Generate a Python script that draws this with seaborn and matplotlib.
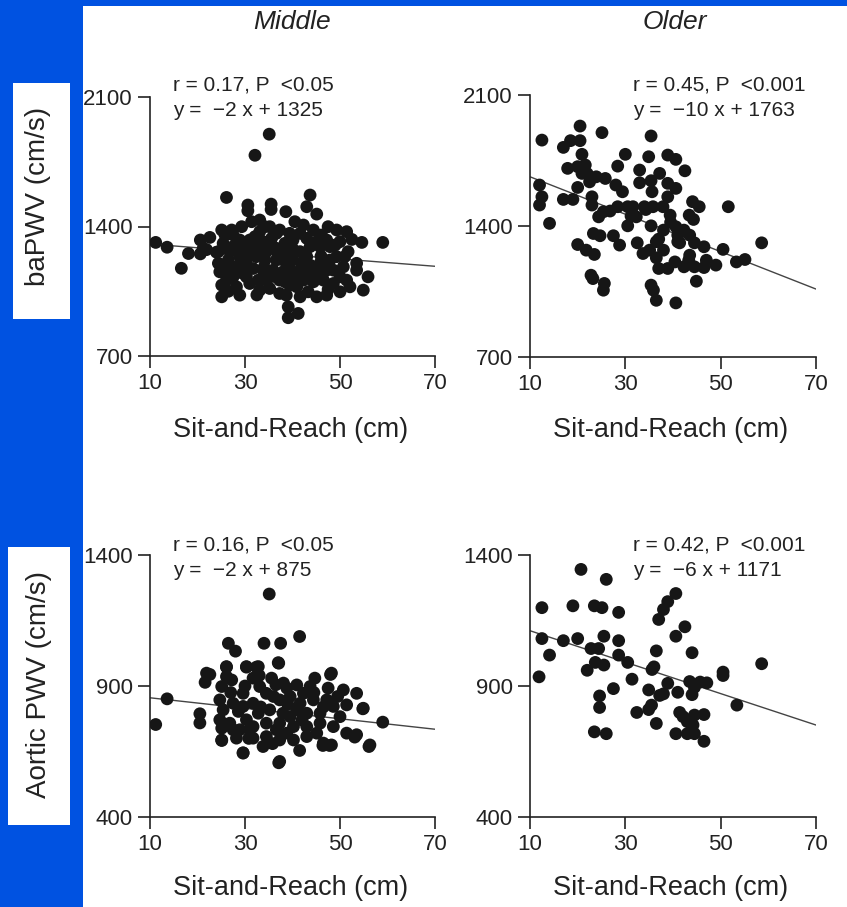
import matplotlib
matplotlib.use("Agg")
import matplotlib.pyplot as plt
import seaborn as sns
import pandas as pd
from matplotlib.patches import Rectangle

sns.set_style("ticks")
plt.rcParams['font.family'] = ['Liberation Sans', 'DejaVu Sans']

# ---------------- data ----------------
columns = ["Middle", "Older"]
row_labels = ["baPWV (cm/s)", "Aortic PWV (cm/s)"]
x_ticks = [10, 30, 50, 70]
y_ticks_ba = [700, 1400, 2100]
y_ticks_ao = [400, 900, 1400]

mid_ba = [
    (11.2, 1314), (13.6, 1288), (16.6, 1174), (18.1, 1254), (20.6, 1327), (20.6, 1252),
    (22.6, 1341), (21.9, 1275), (24.0, 1261), (32.1, 1785), (35.1, 1899), (26.1, 1557),
    (30.6, 1516), (30.6, 1485), (35.5, 1521), (35.5, 1492), (38.6, 1480), (43.7, 1570),
    (43.0, 1507), (45.1, 1467), (54.6, 1314), (59.0, 1314), (21.2, 1282),
    (25.1, 1381), (25.8, 1354), (27.5, 1354), (29.3, 1399), (31.4, 1426), (33.1, 1435),
    (34.2, 1399), (37.3, 1381), (35.6, 1336), (33.8, 1318), (32.1, 1345), (29.6, 1291),
    (27.5, 1291), (24.4, 1264), (24.4, 1201), (26.1, 1164), (28.2, 1182), (30.3, 1219),
    (32.4, 1237), (34.5, 1264), (36.6, 1282), (38.4, 1309), (40.1, 1327), (41.6, 1363),
    (42.3, 1408), (44.4, 1381), (46.1, 1354), (47.5, 1399), (49.3, 1381), (51.4, 1372),
    (51.7, 1264), (51.0, 1237), (53.5, 1201), (53.5, 1164), (55.9, 1128), (54.9, 1056),
    (50.0, 1047), (52.1, 1074), (48.6, 1092), (46.5, 1110), (44.4, 1101), (42.3, 1110),
    (40.1, 1128), (38.0, 1155), (35.9, 1164), (33.8, 1164), (31.7, 1173), (29.6, 1146),
    (27.5, 1128), (25.1, 1083), (25.1, 1020), (28.9, 1029), (31.0, 1092), (32.8, 1110),
    (35.2, 1065), (37.3, 1038), (38.7, 1029), (39.1, 966), (39.1, 907), (41.2, 930),
    (41.6, 1020), (43.3, 1047), (45.1, 1020), (47.2, 1029), (38.0, 1219), (40.1, 1219),
    (41.6, 1264), (43.7, 1291), (45.8, 1291), (47.9, 1291), (43.7, 1191), (45.8, 1201),
    (47.9, 1219), (49.3, 1237), (50.7, 1182), (48.6, 1164), (45.8, 1146), (41.6, 1164),
    (36.6, 1219), (34.2, 1219), (31.7, 1291), (28.9, 1237), (26.5, 1219), (34.5, 1110),
    (37.3, 1110), (25.4, 1309), (26.8, 1264), (31.0, 1327), (33.1, 1372), (36.6, 1363),
    (39.4, 1363), (43.0, 1336), (45.1, 1318), (47.2, 1327), (50.0, 1318), (30.3, 1264),
    (33.1, 1273), (38.7, 1264), (39.4, 1173), (43.0, 1237), (44.4, 1155), (47.2, 1164),
    (26.1, 1110), (28.2, 1074), (30.3, 1128), (33.1, 1056), (39.4, 1083), (40.9, 1074),
    (50.0, 1128), (51.4, 1110), (28.9, 1327), (27.2, 1381), (35.2, 1399), (40.5, 1426),
    (28.9, 1173), (24.7, 1155), (29.0, 1300), (35.0, 1300), (37.0, 1250), (40.0, 1280),
    (42.0, 1200), (46.0, 1240), (49.0, 1300), (52.5, 1330), (30.5, 1180), (34.0, 1180),
    (36.0, 1130), (38.5, 1100), (43.0, 1150), (47.5, 1060), (26.5, 1050), (32.5, 1030),
]

old_ba = [
    (12.5, 1859), (12.0, 1619), (12.5, 1556), (12.0, 1512), (14.1, 1414), (17.0, 1820),
    (18.5, 1856), (20.5, 1856), (20.5, 1934), (25.1, 1899), (20.9, 1783), (17.9, 1708),
    (20.0, 1717), (21.6, 1726), (20.9, 1681), (22.5, 1636), (23.9, 1663), (25.8, 1654),
    (20.0, 1606), (17.0, 1542), (19.0, 1542), (23.0, 1556), (23.0, 1512), (25.4, 1476),
    (24.4, 1449), (28.4, 1720), (30.0, 1783), (28.0, 1619), (29.4, 1583), (28.4, 1503),
    (30.5, 1503), (30.5, 1401), (32.3, 1449), (31.6, 1503), (33.0, 1699), (33.0, 1631),
    (34.9, 1770), (35.4, 1881), (35.4, 1642), (35.6, 1583), (37.2, 1681), (34.0, 1503),
    (35.8, 1503), (37.9, 1503), (38.9, 1556), (38.9, 1628), (40.6, 1601), (38.9, 1779),
    (40.6, 1756), (42.5, 1695), (39.4, 1458), (35.4, 1401), (32.5, 1310), (23.3, 1360),
    (24.7, 1348), (27.5, 1348), (28.8, 1298), (20.0, 1301), (21.8, 1271), (23.5, 1248),
    (22.8, 1137), (23.2, 1119), (25.6, 1093), (25.4, 1057), (33.7, 1253), (35.1, 1271),
    (36.5, 1316), (38.0, 1378), (38.0, 1271), (37.0, 1173), (38.9, 1173), (35.4, 1084),
    (35.9, 1057), (36.5, 1003), (40.6, 989), (40.6, 1396), (41.4, 1310), (40.4, 1208),
    (42.3, 1182), (43.3, 1217), (44.9, 1105), (42.3, 1378), (43.5, 1351), (44.5, 1310),
    (43.5, 1244), (44.5, 1182), (46.5, 1289), (47.0, 1217), (46.5, 1178), (49.0, 1191),
    (50.5, 1275), (53.3, 1208), (55.1, 1221), (58.6, 1310), (51.6, 1503), (44.1, 1530),
    (45.5, 1503), (43.4, 1458), (44.3, 1435), (41.0, 1351), (41.0, 1316), (31.2, 1453),
    (34.3, 1488), (37.0, 1330), (39.5, 1420), (36.5, 1230), (22.0, 1680), (26.8, 1480),
]

mid_ao = [
    (11.2, 753), (13.6, 851), (20.5, 794), (20.5, 759), (21.6, 914), (22.6, 944),
    (26.5, 1063), (28.0, 1033), (34.0, 1063), (37.5, 1063), (35.1, 1251), (41.5, 1089),
    (37.1, 987), (26.1, 972), (30.3, 972), (32.4, 972), (48.0, 944), (59.0, 762),
    (56.1, 669), (54.8, 813), (37.1, 607), (29.6, 645), (41.5, 654), (46.4, 673),
    (47.8, 673), (25.1, 692), (53.1, 705),
    (26.1, 974), (26.1, 936), (30.3, 974), (32.8, 974), (37.0, 989), (21.9, 949),
    (25.1, 898), (27.2, 923), (31.7, 930), (35.6, 930), (38.1, 911), (40.9, 904),
    (44.7, 930), (48.2, 949), (47.5, 892), (50.7, 885), (53.5, 872), (54.9, 815),
    (24.7, 847), (25.4, 809), (24.7, 771), (25.1, 739), (25.1, 694), (28.2, 701),
    (29.6, 644), (29.6, 872), (27.5, 834), (29.6, 822), (31.7, 834), (34.5, 872),
    (37.3, 847), (39.5, 860), (42.3, 872), (44.4, 847), (47.2, 847), (48.6, 822),
    (51.4, 828), (30.3, 771), (32.8, 796), (35.2, 809), (38.0, 796), (40.9, 809),
    (43.0, 796), (45.8, 796), (50.0, 783), (28.9, 733), (31.7, 745), (34.5, 758),
    (37.3, 758), (40.2, 745), (43.0, 745), (45.8, 758), (48.6, 745), (51.4, 720),
    (53.5, 714), (31.7, 701), (34.5, 707), (37.3, 694), (40.2, 694), (43.0, 707),
    (46.5, 682), (48.2, 675), (56.3, 675), (37.3, 612), (33.8, 669), (27.5, 733),
    (36.0, 860), (41.6, 834), (33.1, 898), (38.8, 892), (43.7, 898), (28.6, 803),
    (26.8, 758), (45.1, 720), (39.5, 783), (36.6, 733), (31.0, 733), (30.0, 900),
    (33.0, 940), (36.5, 905), (39.0, 830), (42.0, 770), (44.5, 875), (46.5, 820),
    (49.5, 860), (27.0, 875), (30.8, 700), (35.8, 680), (38.8, 720), (33.3, 820),
]

old_ao = [
    (20.7, 1345), (26.0, 1307), (12.5, 1199), (19.0, 1206), (23.5, 1206), (25.1, 1199),
    (28.6, 1181), (40.6, 1253), (38.9, 1222), (38.0, 1192), (37.0, 1154), (42.5, 1126),
    (40.6, 1090), (12.5, 1081), (17.0, 1073), (20.0, 1081), (25.5, 1090), (28.6, 1073),
    (14.1, 1018), (22.8, 1043), (24.4, 1043), (23.7, 990), (25.5, 980), (22.0, 960),
    (28.6, 1018), (30.5, 990), (11.9, 935), (36.5, 1034), (44.0, 1027), (35.6, 963),
    (36.0, 973), (31.4, 926), (38.9, 910), (27.5, 890), (24.6, 862), (24.6, 818),
    (34.9, 885), (41.0, 876), (37.2, 864), (38.0, 870), (35.5, 827), (34.9, 810),
    (32.4, 799), (36.5, 757), (23.5, 725), (26.0, 718), (40.6, 718), (43.0, 718),
    (44.5, 718), (46.5, 689), (41.4, 799), (42.1, 783), (43.5, 770), (44.5, 789),
    (46.5, 791), (43.5, 917), (44.5, 895), (45.7, 915), (47.1, 912), (44.0, 867),
    (50.5, 953), (50.5, 940), (58.6, 985), (53.4, 827), (43.0, 764), (44.2, 751),
]

slopes = [-2, -10, -2, -6]
intercepts = [1325, 1763, 875, 1171]
stats_r = ["r = 0.17, P  <0.05", "r = 0.45, P  <0.001",
           "r = 0.16, P  <0.05", "r = 0.42, P  <0.001"]
stats_eq = ["y =  \u22122 x + 1325", "y =  \u221210 x + 1763",
            "y =  \u22122 x + 875", "y =  \u22126 x + 1171"]

# ---------------- figure ----------------
W, H = 847, 907
fig = plt.figure(figsize=(W / 100, H / 100), dpi=100)
fig.patch.set_facecolor("white")

blue = "#0052E1"
fig.patches.append(Rectangle((0, 0), 83 / W, 1, transform=fig.transFigure,
                             facecolor=blue, edgecolor="none", zorder=0))
fig.patches.append(Rectangle((0, 1 - 6 / H), 1, 6 / H, transform=fig.transFigure,
                             facecolor=blue, edgecolor="none", zorder=0))
fig.patches.append(Rectangle((13 / W, 1 - 319 / H), 57 / W, 236 / H, transform=fig.transFigure,
                             facecolor="white", edgecolor="none", zorder=1))
fig.patches.append(Rectangle((8 / W, 1 - 825 / H), 62 / W, 278 / H, transform=fig.transFigure,
                             facecolor="white", edgecolor="none", zorder=1))

fig.text(38 / W, 1 - 196 / H, row_labels[0], rotation=90, ha="center", va="center",
         fontsize=20, color="#222222")
fig.text(39 / W, 1 - 684 / H, row_labels[1], rotation=90, ha="center", va="center",
         fontsize=20, color="#222222")

fig.text(292 / W, 1 - 22 / H, columns[0], style="italic", ha="center", va="center",
         fontsize=19, color="#222222")
fig.text(675 / W, 1 - 22 / H, columns[1], style="italic", ha="center", va="center",
         fontsize=19, color="#222222")

# axes boxes in pixels: (left, top, right, bottom)
boxes = [(150, 97, 435, 356), (530, 95, 816, 357), (150, 555, 435, 817), (530, 555, 816, 817)]
panels = [mid_ba, old_ba, mid_ao, old_ao]
yticks_list = [y_ticks_ba, y_ticks_ba, y_ticks_ao, y_ticks_ao]
xlabel_y = [430, 430, 888, 888]
text_x = [173, 633, 173, 633]
text_y = [85, 85, 545, 545]

for i in range(4):
    l, t, r, b = boxes[i]
    ax = fig.add_axes([l / W, 1 - b / H, (r - l) / W, (b - t) / H])
    ax.set_facecolor("none")
    df = pd.DataFrame(panels[i], columns=["x", "y"])
    line = pd.DataFrame({"x": [x_ticks[0], x_ticks[-1]]})
    line["y"] = slopes[i] * line["x"] + intercepts[i]
    sns.lineplot(data=line, x="x", y="y", ax=ax, color="#444444", linewidth=1.0, zorder=2)
    sns.scatterplot(data=df, x="x", y="y", ax=ax, s=85, color="#161616",
                    edgecolor="none", linewidth=0, zorder=3)
    yt = yticks_list[i]
    ax.set_xlim(x_ticks[0], x_ticks[-1])
    ax.set_ylim(yt[0], yt[-1])
    ax.set_xticks(x_ticks)
    ax.set_yticks(yt)
    ax.set_xlabel("")
    ax.set_ylabel("")
    for s in ["top", "right"]:
        ax.spines[s].set_visible(False)
    for s in ["left", "bottom"]:
        ax.spines[s].set_linewidth(1.2)
        ax.spines[s].set_color("#222222")
    ax.tick_params(direction="out", length=8.5, width=1.2, color="#222222",
                   labelsize=16, labelcolor="#222222", pad=4)
    ax.patch.set_alpha(0)
    cx = (l + r) / 2
    fig.text(cx / W - 2 / W, 1 - xlabel_y[i] / H, "Sit-and-Reach (cm)", ha="center",
             va="center", fontsize=19.5, color="#222222")
    fig.text(text_x[i] / W, 1 - text_y[i] / H, stats_r[i], ha="left", va="center",
             fontsize=15, color="#222222")
    fig.text(text_x[i] / W, 1 - (text_y[i] + 25) / H, stats_eq[i], ha="left", va="center",
             fontsize=15, color="#222222")

fig.savefig("out.png", dpi=100, facecolor="white")
